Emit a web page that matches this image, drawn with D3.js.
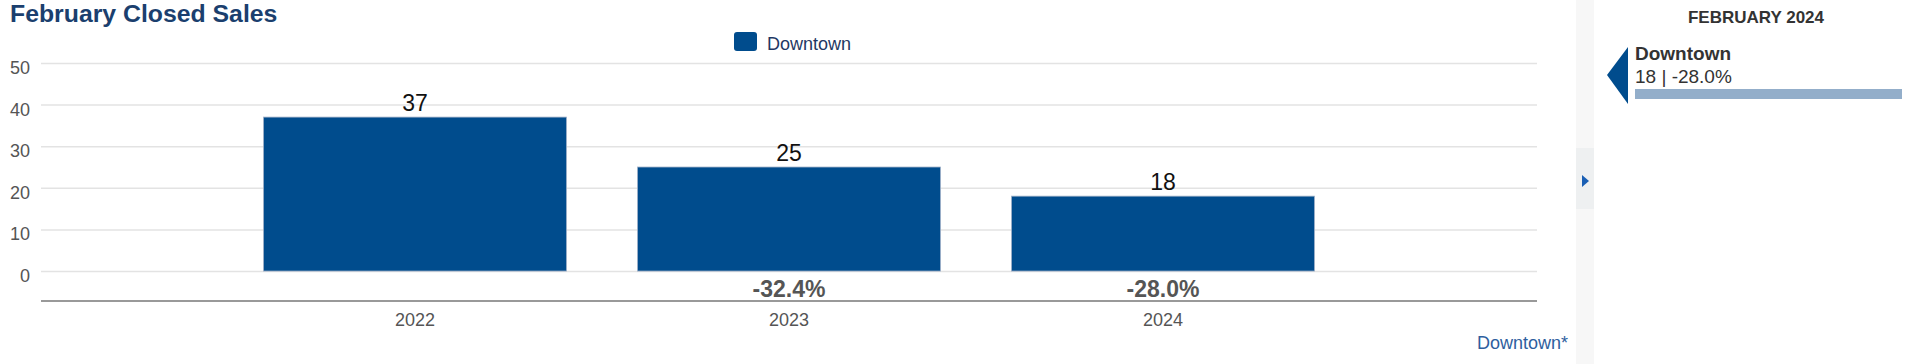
<!DOCTYPE html>
<html>
<head>
<meta charset="utf-8">
<script src="https://cdn.jsdelivr.net/npm/d3@7"></script>
<style>
  html, body { margin: 0; padding: 0; background: #fff; }
  svg { display: block; font-family: "Liberation Sans", Arial, Helvetica, sans-serif; }
</style>
</head>
<body>
<svg id="chart" width="1920" height="364"></svg>
<script>
const title = "February Closed Sales";
const seriesName = "Downtown";
const categories = ["2022", "2023", "2024"];
const values = [37, 25, 18];
const yTicks = [0, 10, 20, 30, 40, 50];
const panelTitle = "FEBRUARY 2024";

const svg = d3.select("#chart");
const W = 1920, H = 364;

const plotLeft = 41, plotRight = 1537;
const x = d3.scaleBand().domain(categories).range([plotLeft, plotRight])
  .paddingInner(0.19).paddingOuter(0.595);
const y = d3.scaleLinear().domain([-7.2, 50]).range([301, 63]);

const changes = values.map((v, i) => i === 0 ? null : (v - values[i - 1]) / values[i - 1] * 100);
const fmtPct = v => (v > 0 ? "+" : "") + v.toFixed(1) + "%";

// title
svg.append("text").attr("x", 10).attr("y", 22)
  .attr("font-size", 24.8).attr("font-weight", "bold").attr("fill", "#1b3f6e")
  .text(title);

// gridlines
const gridAxis = d3.axisLeft(y).tickValues(yTicks).tickSize(-(plotRight - plotLeft)).tickFormat("");
const g = svg.append("g").attr("transform", `translate(${plotLeft},0)`).call(gridAxis);
g.select(".domain").remove();
g.selectAll(".tick line").attr("stroke", "#e3e3e3").attr("stroke-width", 1.5);

// y labels
svg.append("g").selectAll("text").data(yTicks).join("text")
  .attr("x", 30).attr("y", d => y(d) + 11)
  .attr("text-anchor", "end").attr("font-size", 18).attr("fill", "#555")
  .text(d => d);

// bars
svg.append("g").selectAll("rect").data(values).join("rect")
  .attr("x", (d, i) => x(categories[i]))
  .attr("y", d => y(d))
  .attr("width", x.bandwidth())
  .attr("height", d => y(0) - y(d))
  .attr("fill", "#004c8d")
  .attr("stroke", "#9fb0c8").attr("stroke-width", 0.8);

// value labels
svg.append("g").selectAll("text").data(values).join("text")
  .attr("x", (d, i) => x(categories[i]) + x.bandwidth() / 2)
  .attr("y", d => y(d) - 6)
  .attr("text-anchor", "middle").attr("font-size", 23).attr("fill", "#111")
  .text(d => d);

// percent change labels
svg.append("g").selectAll("text").data(changes.map((c, i) => ({c, i})).filter(d => d.c !== null)).join("text")
  .attr("x", d => x(categories[d.i]) + x.bandwidth() / 2)
  .attr("y", 297)
  .attr("text-anchor", "middle").attr("font-size", 23).attr("font-weight", "bold").attr("fill", "#555")
  .text(d => fmtPct(d.c));

// x axis
const xAxis = d3.axisBottom(x).tickSize(0).tickPadding(0);
const xa = svg.append("g").attr("transform", "translate(0,301)").call(xAxis);
xa.select(".domain").attr("stroke", "#999").attr("stroke-width", 2)
  .attr("d", `M${plotLeft},0H${plotRight}`);
xa.selectAll(".tick text").attr("font-size", 18).attr("fill", "#555")
  .attr("font-family", "Liberation Sans, Arial, sans-serif")
  .attr("dy", null).attr("y", 25);

// legend
svg.append("rect").attr("x", 734).attr("y", 32).attr("width", 23).attr("height", 19)
  .attr("rx", 3).attr("fill", "#004c8d");
svg.append("text").attr("x", 767).attr("y", 50).attr("font-size", 18).attr("fill", "#1f3864")
  .text(seriesName);

// bottom-right link
svg.append("text").attr("x", 1568).attr("y", 349).attr("text-anchor", "end")
  .attr("font-size", 18).attr("fill", "#2e5e9e").text(seriesName + "*");

// side strip
svg.append("rect").attr("x", 1576).attr("y", 0).attr("width", 18).attr("height", H).attr("fill", "#f7f7f7");
svg.append("rect").attr("x", 1576).attr("y", 148).attr("width", 18).attr("height", 61).attr("fill", "#eef0f1");
svg.append("path").attr("d", "M1582,175L1589,181L1582,187Z").attr("fill", "#1a5fb4");

// right panel
svg.append("text").attr("x", 1756).attr("y", 23).attr("text-anchor", "middle")
  .attr("font-size", 17).attr("font-weight", "bold").attr("fill", "#333").text(panelTitle);
svg.append("path").attr("d", "M1607,75L1628,47L1628,104Z").attr("fill", "#004c8d");
const last = values.length - 1;
svg.append("text").attr("x", 1635).attr("y", 60).attr("font-size", 19).attr("font-weight", "bold")
  .attr("fill", "#333").text(seriesName);
svg.append("text").attr("x", 1635).attr("y", 83).attr("font-size", 19).attr("fill", "#333")
  .text(values[last] + " | " + fmtPct(changes[last]));
const px = d3.scaleLinear().domain([0, values[last]]).range([0, 267]);
svg.append("rect").attr("x", 1635).attr("y", 89).attr("width", px(values[last])).attr("height", 10)
  .attr("fill", "#93aeca");
</script>
</body>
</html>
